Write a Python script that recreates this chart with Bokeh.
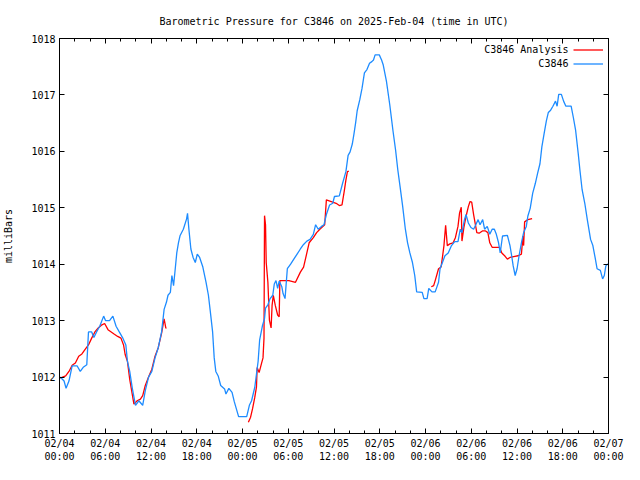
import math
from bokeh.plotting import figure
from bokeh.models import FixedTicker, LinearAxis, Range1d, Legend, LegendItem, Label
from bokeh.embed import file_html
from bokeh.resources import INLINE

TITLE = "Barometric Pressure for C3846 on 2025-Feb-04 (time in UTC)"
Y_LABEL = "milliBars"
SERIES_ANALYSIS = "C3846 Analysis"
SERIES_OBS = "C3846"

# x in hours since 2025-02-04 00:00 UTC
tick_hours = [0, 6, 12, 18, 24, 30, 36, 42, 48, 54, 60, 66, 72]
tick_labels = ["02/04\n00:00", "02/04\n06:00", "02/04\n12:00", "02/04\n18:00",
               "02/05\n00:00", "02/05\n06:00", "02/05\n12:00", "02/05\n18:00",
               "02/06\n00:00", "02/06\n06:00", "02/06\n12:00", "02/06\n18:00",
               "02/07\n00:00"]
minor_hours = [2, 4, 8, 10, 14, 16, 20, 22, 26, 28, 32, 34, 38, 40, 44, 46,
               50, 52, 56, 58, 62, 64, 68, 70]
y_ticks = [1011, 1012, 1013, 1014, 1015, 1016, 1017, 1018]

# observed station pressure (blue)
blue_h = [0.09, 0.60, 0.86, 1.24, 1.66, 2.30, 2.72, 3.16, 3.58, 3.80, 4.22, 4.51, 4.86,
          5.28, 5.79, 6.05, 6.56, 7.00, 7.42, 7.84, 8.27, 8.70, 8.91, 9.21, 9.55, 9.97,
          10.40, 10.91, 11.25, 11.68, 12.11, 12.53, 12.95, 13.39, 13.72, 14.03, 14.23,
          14.54, 14.74, 14.96, 15.18, 15.38, 15.60, 15.82, 16.24, 16.66, 16.79, 16.97,
          17.23, 17.52, 17.81, 18.07, 18.38, 18.80, 19.22, 19.53, 19.78, 20.08, 20.29,
          20.50, 20.81, 21.14, 21.65, 21.83, 22.21, 22.63, 22.93, 23.49, 24.55, 24.90,
          25.19, 25.61, 25.83, 26.05, 26.25, 26.60, 26.89, 27.02, 27.33, 27.62, 27.97,
          28.17, 28.39, 28.61, 28.81, 29.16, 29.32, 29.58, 29.88, 30.31, 30.73, 31.16,
          31.59, 32.01, 32.44, 32.86, 33.29, 33.59, 33.93, 34.36, 34.69, 35.00, 35.42,
          35.84, 36.06, 36.70, 37.12, 37.56, 37.85, 38.11, 38.40, 38.62, 38.84, 39.04,
          39.39, 39.68, 39.99, 40.32, 40.66, 40.96, 41.18, 41.39, 41.94, 42.24, 42.46,
          42.88, 43.31, 43.73, 44.08, 44.37, 44.67, 45.01, 45.36, 45.65, 45.95, 46.29,
          46.59, 46.84, 47.57, 47.79, 48.21, 48.43, 48.85, 49.27, 49.71, 49.91, 50.22,
          50.55, 50.98, 51.41, 51.83, 52.26, 52.56, 52.78, 53.11, 53.32, 53.62, 53.96,
          54.31, 54.60, 54.90, 55.15, 55.50, 55.75, 56.10, 56.43, 56.74, 57.03, 57.29,
          57.58, 57.80, 58.10, 58.74, 59.08, 59.30, 59.50, 59.76, 60.01, 60.27, 60.58,
          60.87, 61.22, 61.42, 61.73, 62.06, 62.40, 62.70, 63.01, 63.26, 63.55, 63.85,
          64.11, 64.41, 64.71, 65.05, 65.26, 65.47, 65.82, 66.11, 66.41, 67.10, 67.39,
          67.69, 68.03, 68.25, 68.54, 68.89, 69.22, 69.65, 69.95, 70.24, 70.50, 70.93,
          71.23, 71.45, 71.65, 71.87, 72.00]
blue_p = [1012.00, 1011.93, 1011.80, 1011.93, 1012.20, 1012.20, 1012.10, 1012.18, 1012.22,
          1012.80, 1012.80, 1012.70, 1012.80, 1012.90, 1013.08, 1013.00, 1013.00, 1013.08,
          1012.90, 1012.80, 1012.70, 1012.57, 1012.28, 1012.10, 1011.80, 1011.50, 1011.58,
          1011.50, 1011.76, 1012.00, 1012.10, 1012.34, 1012.52, 1012.80, 1013.20, 1013.33,
          1013.45, 1013.50, 1013.80, 1013.62, 1013.92, 1014.20, 1014.38, 1014.51, 1014.62,
          1014.80, 1014.90, 1014.62, 1014.27, 1014.12, 1014.03, 1014.18, 1014.12, 1013.95,
          1013.68, 1013.45, 1013.16, 1012.80, 1012.34, 1012.10, 1012.02, 1011.85, 1011.79,
          1011.70, 1011.80, 1011.73, 1011.56, 1011.30, 1011.30, 1011.50, 1011.58, 1011.82,
          1012.05, 1012.28, 1012.66, 1012.90, 1013.04, 1013.22, 1013.28, 1013.39, 1013.45,
          1013.65, 1013.71, 1013.57, 1013.70, 1013.60, 1013.48, 1013.39, 1013.92, 1014.00,
          1014.09, 1014.18, 1014.27, 1014.35, 1014.41, 1014.44, 1014.53, 1014.70, 1014.62,
          1014.67, 1014.70, 1014.88, 1015.05, 1015.08, 1015.20, 1015.21, 1015.43, 1015.64,
          1015.93, 1015.99, 1016.13, 1016.31, 1016.51, 1016.72, 1016.92, 1017.12, 1017.39,
          1017.45, 1017.56, 1017.59, 1017.62, 1017.71, 1017.71, 1017.62, 1017.53, 1017.24,
          1016.83, 1016.37, 1016.02, 1015.67, 1015.37, 1015.02, 1014.62, 1014.38, 1014.20,
          1014.03, 1013.80, 1013.51, 1013.50, 1013.39, 1013.39, 1013.57, 1013.51, 1013.51,
          1013.68, 1013.92, 1014.03, 1014.15, 1014.20, 1014.33, 1014.40, 1014.40, 1014.62,
          1014.56, 1014.79, 1014.88, 1014.73, 1014.65, 1014.62, 1014.70, 1014.79, 1014.70,
          1014.79, 1014.62, 1014.67, 1014.53, 1014.62, 1014.62, 1014.53, 1014.38, 1014.20,
          1014.50, 1014.51, 1014.33, 1014.15, 1013.97, 1013.80, 1013.92, 1014.15, 1014.38,
          1014.56, 1014.67, 1014.85, 1014.99, 1015.26, 1015.43, 1015.61, 1015.78, 1016.08,
          1016.31, 1016.54, 1016.69, 1016.73, 1016.80, 1016.89, 1016.80, 1017.01, 1017.01,
          1016.89, 1016.80, 1016.80, 1016.60, 1016.37, 1015.96, 1015.67, 1015.32, 1015.08,
          1014.79, 1014.44, 1014.33, 1014.12, 1013.92, 1013.89, 1013.74, 1013.80, 1013.97,
          1014.00, 1014.00]

# analysis (red), three separate runs
red1_h = [0.09, 0.81, 1.24, 1.66, 2.08, 2.52, 2.94, 3.36, 3.80, 4.22, 4.64, 5.08, 5.50,
          5.92, 6.36, 6.78, 7.20, 7.63, 8.06, 8.40, 8.61, 8.91, 9.21, 9.46, 9.76, 10.19,
          10.61, 10.91, 11.25, 11.68, 12.11, 12.53, 12.95, 13.39, 13.72, 13.94, 14.03]
red1_p = [1011.98, 1012.02, 1012.10, 1012.21, 1012.25, 1012.37, 1012.41, 1012.49, 1012.57,
          1012.69, 1012.80, 1012.87, 1012.92, 1012.95, 1012.84, 1012.80, 1012.76, 1012.72,
          1012.69, 1012.57, 1012.40, 1012.28, 1011.96, 1011.76, 1011.52, 1011.58, 1011.61,
          1011.67, 1011.85, 1012.00, 1012.14, 1012.37, 1012.52, 1012.78, 1013.03, 1012.87,
          1012.87]
red2_h = [24.77, 25.06, 25.32, 25.61, 25.83, 25.92, 26.18, 26.47, 26.69, 26.82, 26.89,
          27.02, 27.11, 27.33, 27.53, 27.75, 27.88, 28.04, 28.30, 28.61, 28.81, 28.90,
          30.09, 30.95, 31.59, 32.01, 32.44, 32.74, 33.29, 33.72, 34.14, 34.78, 35.00,
          35.64, 36.28, 36.70, 37.05, 37.34, 37.56, 37.76, 37.94]
red2_p = [1011.20, 1011.29, 1011.44, 1011.64, 1011.82, 1012.17, 1012.08, 1012.23, 1012.34,
          1012.69, 1014.86, 1014.70, 1014.03, 1013.68, 1013.01, 1012.87, 1013.27, 1013.45,
          1013.27, 1013.10, 1013.07, 1013.71, 1013.71, 1013.68, 1013.86, 1013.95, 1014.20,
          1014.38, 1014.47, 1014.56, 1014.62, 1014.70, 1015.14, 1015.11, 1015.08, 1015.04,
          1015.05, 1015.29, 1015.49, 1015.64, 1015.65]
red3_h = [48.76, 49.07, 49.27, 49.71, 50.04, 50.22, 50.42, 50.64, 50.86, 51.19, 51.62,
          51.92, 52.26, 52.47, 52.69, 52.78, 53.03, 53.32, 53.62, 53.84, 54.06, 54.31,
          54.51, 54.73, 55.03, 55.46, 55.88, 56.18, 56.43, 56.74, 57.71, 58.01, 58.44,
          58.74, 59.08, 59.72, 60.14, 60.58, 60.78, 60.87, 61.00, 61.42, 61.98]
red3_p = [1013.60, 1013.62, 1013.71, 1013.92, 1013.95, 1014.12, 1014.33, 1014.69, 1014.33,
          1014.36, 1014.38, 1014.47, 1014.67, 1014.91, 1015.01, 1014.41, 1014.65, 1014.85,
          1015.02, 1015.11, 1015.10, 1014.88, 1014.73, 1014.56, 1014.55, 1014.59, 1014.59,
          1014.56, 1014.38, 1014.30, 1014.30, 1014.20, 1014.14, 1014.09, 1014.12, 1014.14,
          1014.15, 1014.18, 1014.50, 1014.33, 1014.75, 1014.79, 1014.81]

FONT = "DejaVu Sans Mono"
FS = "10px"
RED = "#ff0000"
BLUE = "#1e8cff"

p = figure(width=624, height=464, output_backend="svg", toolbar_location=None,
           x_range=Range1d(tick_hours[0], tick_hours[-1]),
           y_range=Range1d(y_ticks[0], y_ticks[-1]),
           min_border_left=58, min_border_right=16, min_border_top=38, min_border_bottom=30,
           x_axis_type=None, y_axis_type=None)
p.title.text = TITLE
p.title.align = "center"
p.title.text_font = FONT
p.title.text_font_size = FS
p.title.text_font_style = "normal"
p.title.text_color = "black"
p.title.standoff = 24
p.grid.visible = False
p.outline_line_color = "black"
p.outline_line_width = 1
p.background_fill_color = "white"
p.border_fill_color = "white"

xt = FixedTicker(ticks=tick_hours, minor_ticks=minor_hours)
yt = FixedTicker(ticks=y_ticks)
overrides = {h: lab for h, lab in zip(tick_hours, tick_labels)}
yover = {v: str(v) for v in y_ticks}


def style(ax, labels):
    ax.axis_line_color = "black"
    ax.major_tick_line_color = "black"
    ax.minor_tick_line_color = "black"
    ax.major_tick_in = 5
    ax.major_tick_out = 0
    ax.minor_tick_in = 3
    ax.minor_tick_out = 0
    ax.major_label_text_font = FONT
    ax.major_label_text_font_size = FS if labels else "0px"
    ax.major_label_text_color = "black"
    ax.major_label_standoff = 4
    ax.axis_label_text_font = FONT
    ax.axis_label_text_font_size = FS
    ax.axis_label_text_font_style = "normal"
    ax.axis_label_text_color = "black"


bx = LinearAxis(ticker=xt, major_label_overrides=overrides)
style(bx, True)
tx = LinearAxis(ticker=xt, major_label_overrides={h: "" for h in tick_hours})
style(tx, False)
tx.major_label_standoff = 0
ly = LinearAxis(ticker=yt, major_label_overrides=yover, axis_label=Y_LABEL)
style(ly, True)
ly.minor_tick_line_color = None
ly.axis_label_standoff = 14
ry = LinearAxis(ticker=yt, major_label_overrides={v: "" for v in y_ticks})
style(ry, False)
ry.minor_tick_line_color = None
ry.major_label_standoff = 0

p.add_layout(bx, "below")
p.add_layout(tx, "above")
p.add_layout(ly, "left")
p.add_layout(ry, "right")

r_red = p.multi_line(xs=[red1_h, red2_h, red3_h], ys=[red1_p, red2_p, red3_p],
                     line_color=RED, line_width=1.3)
r_blue = p.line(blue_h, blue_p, line_color=BLUE, line_width=1.3)

legend = Legend(items=[LegendItem(label=" ", renderers=[r_red]),
                       LegendItem(label=" ", renderers=[r_blue])],
                location="top_right", background_fill_alpha=0, border_line_alpha=0,
                glyph_width=30, glyph_height=13, label_width=0, label_standoff=0,
                label_text_font_size="1px", spacing=1, padding=2, margin=3,
                label_height=13)
p.add_layout(legend)

for txt, yv in [(SERIES_ANALYSIS, 1017.80), (SERIES_OBS, 1017.55)]:
    p.add_layout(Label(x=66.75, y=yv, text=txt, text_align="right", text_baseline="middle",
                       text_font=FONT, text_font_size=FS, text_color="black"))

open("out.html", "w").write(file_html(p, INLINE))
